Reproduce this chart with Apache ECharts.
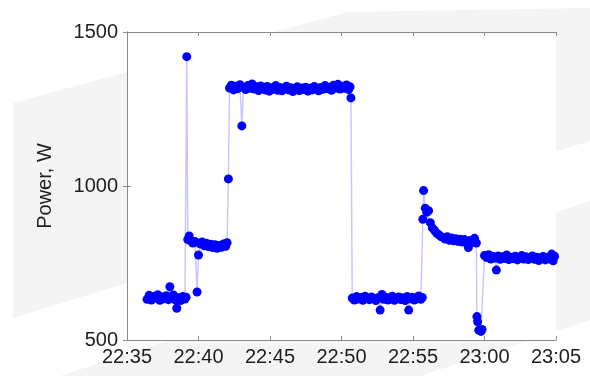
<!DOCTYPE html>
<html>
<head>
<meta charset="utf-8">
<script src="https://cdn.jsdelivr.net/npm/echarts@6/dist/echarts.min.js"></script>
<style>
  html, body { margin: 0; padding: 0; background: #fff; }
  #chart { width: 590px; height: 376px; }
</style>
</head>
<body>
<div id="chart"></div>
<script>
// minutes after 22:35, power in W
const timeTicks = ['22:35', '22:40', '22:45', '22:50', '22:55', '23:00', '23:05'];
const powerTicks = [500, 1000, 1500];

// idle before first heat
const idleA = [
  [1.4, 632], [1.55, 645], [1.7, 630], [1.85, 641], [2.0, 636], [2.15, 647], [2.3, 629],
  [2.45, 640], [2.6, 634], [2.75, 644], [2.9, 631], [3.0, 673], [3.1, 638], [3.25, 646],
  [3.4, 630], [3.48, 603], [3.6, 637], [3.75, 628], [3.9, 641], [4.05, 633], [4.13, 639]
];
const spikeA = [[4.18, 1420]];
const midA = [
  [4.25, 826], [4.35, 838], [4.45, 822], [4.6, 815], [4.75, 820], [4.9, 656], [5.0, 776],
  [5.1, 812], [5.25, 818], [5.4, 806], [5.55, 814], [5.7, 803], [5.85, 811], [6.0, 800],
  [6.15, 809], [6.3, 798], [6.45, 807], [6.6, 801], [6.75, 812], [6.9, 804], [7.0, 816]
];
const rampA = [[7.09, 1023]];
const high = [
  [7.17, 1318], [7.3, 1327], [7.45, 1312], [7.6, 1324], [7.75, 1316], [7.9, 1329], [8.03, 1195],
  [8.15, 1320], [8.3, 1313], [8.45, 1326], [8.6, 1317], [8.75, 1331], [8.9, 1315], [9.05, 1322],
  [9.2, 1310], [9.35, 1325], [9.5, 1318], [9.65, 1312], [9.8, 1323], [9.95, 1308], [10.1, 1319],
  [10.25, 1314], [10.4, 1326], [10.55, 1311], [10.7, 1320], [10.85, 1309], [11.0, 1317],
  [11.15, 1324], [11.3, 1312], [11.45, 1319], [11.6, 1307], [11.75, 1316], [11.9, 1322],
  [12.05, 1310], [12.2, 1318], [12.35, 1313], [12.5, 1321], [12.65, 1308], [12.8, 1317],
  [12.95, 1312], [13.1, 1323], [13.25, 1315], [13.4, 1309], [13.55, 1320], [13.7, 1314],
  [13.85, 1326], [14.0, 1316], [14.15, 1321], [14.3, 1311], [14.45, 1327], [14.6, 1318],
  [14.75, 1330], [14.9, 1315], [15.05, 1324], [15.2, 1317], [15.35, 1328], [15.5, 1313],
  [15.6, 1322], [15.66, 1286]
];
const idleB = [
  [15.75, 636], [15.9, 630], [16.05, 641], [16.2, 633], [16.35, 638], [16.5, 629], [16.65, 642],
  [16.8, 635], [16.95, 631], [17.1, 640], [17.25, 634], [17.4, 628], [17.55, 637], [17.7, 597],
  [17.83, 648], [17.95, 632], [18.1, 639], [18.25, 630], [18.4, 636], [18.55, 642], [18.7, 629],
  [18.85, 635], [19.0, 640], [19.15, 631], [19.3, 637], [19.45, 628], [19.6, 641], [19.7, 597],
  [19.8, 634], [19.95, 639], [20.1, 630], [20.25, 636], [20.4, 643], [20.55, 632], [20.65, 638]
];
const decay = [
  [20.69, 892], [20.74, 985], [20.86, 928], [20.97, 915], [21.09, 920], [21.21, 881],
  [21.35, 864], [21.5, 856], [21.65, 847], [21.8, 842], [21.95, 836], [22.1, 833], [22.25, 828],
  [22.4, 835], [22.55, 824], [22.7, 831], [22.85, 822], [23.0, 829], [23.15, 820], [23.3, 827],
  [23.45, 818], [23.6, 826], [23.75, 821], [23.87, 800], [24.0, 823], [24.15, 817], [24.3, 830],
  [24.43, 815]
];
const dropB = [[24.47, 576], [24.52, 559], [24.6, 532], [24.75, 528], [24.83, 534]];
const tail = [
  [25.0, 774], [25.15, 768], [25.3, 777], [25.45, 763], [25.6, 771], [25.75, 766], [25.83, 727],
  [25.95, 773], [26.1, 762], [26.25, 770], [26.4, 765], [26.55, 776], [26.7, 761], [26.85, 769],
  [27.0, 764], [27.15, 772], [27.3, 760], [27.45, 768], [27.6, 774], [27.75, 763], [27.9, 770],
  [28.05, 761], [28.2, 767], [28.35, 773], [28.5, 762], [28.65, 769], [28.8, 758], [28.95, 766],
  [29.1, 771], [29.25, 760], [29.4, 768], [29.55, 763], [29.7, 779], [29.8, 757], [29.9, 772]
];

const points = [].concat(idleA, spikeA, midA, rampA, high, idleB, decay, dropB, tail);

const chart = echarts.init(document.getElementById('chart'));

const axisGray = '#8a8a8a';
const textColor = '#1e1e1e';
const font = "'Liberation Sans', Arial, Helvetica, sans-serif";

const frameAxis = {
  axisLine: { show: true, lineStyle: { color: axisGray, width: 1 } },
  axisTick: { show: true, inside: true, length: 4, lineStyle: { color: axisGray } },
  splitLine: { show: false },
};

chart.setOption({
  animation: false,
  backgroundColor: '#fff',
  // light grey swooshes behind the plot
  graphic: [
    {
      type: 'polygon', z: -10, silent: true,
      shape: { points: [[13, 103], [348, 12], [590, 8], [590, 141], [13, 318]] },
      style: { fill: '#f4f4f4' },
    },
    {
      type: 'polygon', z: -10, silent: true,
      shape: { points: [[60, 376], [590, 201], [590, 320], [420, 376]] },
      style: { fill: '#f4f4f4' },
    },
  ],
  grid: {
    left: 127, right: 34, top: 32, bottom: 36,
    show: true, backgroundColor: '#fff', borderWidth: 0,
  },
  xAxis: [
    {
      ...frameAxis,
      type: 'value', min: 0, max: 30, interval: 5, position: 'bottom',
      axisLabel: {
        color: textColor, fontSize: 20, fontFamily: font, margin: 7,
        formatter: (v) => timeTicks[Math.round(v / 5)],
      },
    },
    {
      ...frameAxis,
      type: 'value', min: 0, max: 30, interval: 5, position: 'top',
      axisLabel: { show: false },
    },
  ],
  yAxis: [
    {
      ...frameAxis,
      type: 'value', min: 500, max: 1500, interval: 500, position: 'left',
      name: 'Power, W', nameLocation: 'middle', nameGap: 72,
      nameTextStyle: { color: textColor, fontSize: 20, fontFamily: font },
      axisLabel: {
        color: textColor, fontSize: 20, fontFamily: font, margin: 9,
        formatter: (v) => (powerTicks.includes(v) ? String(v) : ''),
      },
    },
    {
      ...frameAxis,
      type: 'value', min: 500, max: 1500, interval: 500, position: 'right',
      axisLabel: { show: false },
    },
  ],
  series: [
    {
      name: 'Power',
      type: 'line',
      data: points,
      symbol: 'circle',
      symbolSize: 9,
      showAllSymbol: true,
      itemStyle: { color: '#0000ff' },
      lineStyle: { color: 'rgba(0, 0, 255, 0.22)', width: 1.5 },
      emphasis: { disabled: true },
    },
  ],
});
</script>
</body>
</html>
